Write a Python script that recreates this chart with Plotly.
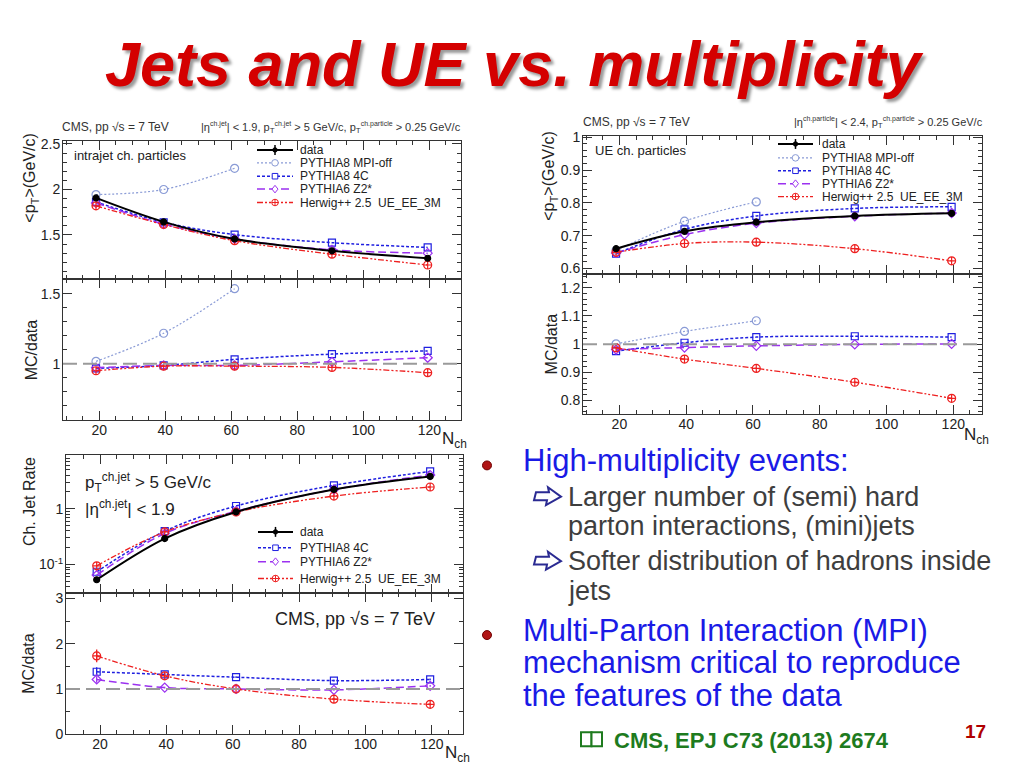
import plotly.graph_objects as go

W, H = 1024, 768
OX, OY = 8, 6      # page body margin of the exported html
HV = 759           # vertical extent the figure occupies on the photographed page
FONT = "Liberation Sans"

# ---------------- data ----------------
nch = [19, 39.5, 61, 90.5, 119.5]
nch_mpioff = [19, 39.5, 61]

# intrajet charged particles <pT>
ij_data = [1.907, 1.644, 1.456, 1.326, 1.244]
ij_data_err = [0.012, 0.010, 0.010, 0.012, 0.015]
ij_mpioff = [1.944, 2.000, 2.233]
ij_4c = [1.863, 1.640, 1.504, 1.415, 1.363]
ij_z2 = [1.852, 1.620, 1.456, 1.337, 1.300]
ij_herwig = [1.820, 1.615, 1.437, 1.289, 1.170]
# intrajet MC/data
ijr_mpioff = [1.017, 1.218, 1.536]
ijr_4c = [0.967, 0.988, 1.031, 1.069, 1.092]
ijr_z2 = [0.972, 0.988, 0.988, 1.014, 1.043]
ijr_herwig = [0.950, 0.983, 0.983, 0.974, 0.936]

# UE charged particles <pT>
ue_data = [0.660, 0.713, 0.741, 0.760, 0.768]
ue_data_err = [0.004, 0.004, 0.004, 0.004, 0.005]
ue_mpioff = [0.655, 0.744, 0.803]
ue_4c = [0.645, 0.719, 0.760, 0.783, 0.788]
ue_z2 = [0.647, 0.703, 0.738, 0.759, 0.769]
ue_herwig = [0.649, 0.676, 0.680, 0.660, 0.623]
# UE MC/data
uer_mpioff = [1.001, 1.045, 1.083]
uer_4c = [0.975, 1.005, 1.025, 1.028, 1.025]
uer_z2 = [0.981, 0.988, 0.994, 0.999, 1.001]
uer_herwig = [0.987, 0.947, 0.914, 0.865, 0.808]

# charged jet rate
jr_data = [0.0532, 0.291, 0.872, 2.21, 3.78]
jr_data_err = [0.004, 0.012, 0.03, 0.08, 0.14]
jr_4c = [0.074, 0.394, 1.116, 2.61, 4.64]
jr_z2 = [0.0645, 0.358, 0.90, 2.20, 4.00]
jr_herwig = [0.0946, 0.383, 0.87, 1.68, 2.44]
# jet rate MC/data
jrr_4c = [1.38, 1.32, 1.26, 1.185, 1.21]
jrr_4c_err = [0.10, 0.03, 0.02, 0.02, 0.02]
jrr_z2 = [1.21, 1.03, 1.00, 0.98, 1.07]
jrr_z2_err = [0.07, 0.02, 0.02, 0.02, 0.02]
jrr_herwig = [1.73, 1.29, 1.00, 0.775, 0.66]
jrr_herwig_err = [0.14, 0.03, 0.02, 0.02, 0.02]

LABELS = {
    "data": "data",
    "mpioff": "PYTHIA8 MPI-off",
    "4c": "PYTHIA8 4C",
    "z2": "PYTHIA6 Z2*",
    "herwig": "Herwig++ 2.5 \u00a0UE_EE_3M",
}

STY = {
    "data": dict(color="black", dash="solid", width=2, symbol="circle", size=6),
    "mpioff": dict(color="#8a9bd6", dash="2px,2px", width=1.2, symbol="circle-open", size=8),
    "4c": dict(color="#1f1fe0", dash="3px,2px", width=1.5, symbol="square-open", size=7),
    "z2": dict(color="#9b30f0", dash="8px,4px", width=1.5, symbol="diamond-open", size=7),
    "herwig": dict(color="#ee2020", dash="6px,2px,2px,2px,2px,2px", width=1.3,
                   symbol="circle-cross-open", size=8),
}

fig = go.Figure()


def axname(i, letter):
    return letter if i == 1 else f"{letter}{i}"


def add(key, x, y, i, err=None):
    s = STY[key]
    fig.add_trace(go.Scatter(
        x=x, y=y, xaxis=axname(i, "x"), yaxis=axname(i, "y"),
        mode="lines+markers",
        line=dict(color=s["color"], dash=s["dash"], width=s["width"], shape="spline", smoothing=1),
        marker=dict(symbol=s["symbol"], size=s["size"], color=s["color"],
                    line=dict(color=s["color"], width=1.2)),
        error_y=dict(type="data", array=err if err is not None else [],
                     visible=err is not None, color=s["color"], thickness=1.3, width=0),
        showlegend=False, hoverinfo="skip"))


# panel 1/2 : intrajet
add("mpioff", nch_mpioff, ij_mpioff, 1)
add("4c", nch, ij_4c, 1)
add("z2", nch, ij_z2, 1)
add("herwig", nch, ij_herwig, 1)
add("data", nch, ij_data, 1, ij_data_err)
add("mpioff", nch_mpioff, ijr_mpioff, 2)
add("4c", nch, ijr_4c, 2)
add("z2", nch, ijr_z2, 2)
add("herwig", nch, ijr_herwig, 2)
# panel 3/4 : UE
add("mpioff", nch_mpioff, ue_mpioff, 3)
add("4c", nch, ue_4c, 3)
add("z2", nch, ue_z2, 3)
add("herwig", nch, ue_herwig, 3)
add("data", nch, ue_data, 3, ue_data_err)
add("mpioff", nch_mpioff, uer_mpioff, 4)
add("4c", nch, uer_4c, 4)
add("z2", nch, uer_z2, 4)
add("herwig", nch, uer_herwig, 4)
# panel 5/6 : jet rate
add("4c", nch, jr_4c, 5)
add("z2", nch, jr_z2, 5)
add("herwig", nch, jr_herwig, 5)
add("data", nch, jr_data, 5, jr_data_err)
add("4c", nch, jrr_4c, 6, jrr_4c_err)
add("z2", nch, jrr_z2, 6, jrr_z2_err)
add("herwig", nch, jrr_herwig, 6, jrr_herwig_err)


def fx(px):
    return (px - OX) / W


def fy(py):
    return 1 - (py - OY) / HV


def xd(a, b):
    return [fx(a), fx(b)]


def yd(top, bottom):
    return [fy(bottom), fy(top)]


COMMON = dict(showline=True, linecolor="#333", linewidth=1, mirror="allticks",
              ticks="inside", ticklen=9, tickwidth=1, tickcolor="#333",
              showgrid=False, zeroline=False,
              tickfont=dict(family=FONT, size=14, color="#222"))


def minor(**kw):
    d = dict(ticks="inside", ticklen=4, tickcolor="#333", tickwidth=1)
    d.update(kw)
    return d


def xaxis(dom, anchor, rng, labels):
    return dict(domain=dom, anchor=anchor, range=rng, tick0=0, dtick=20,
                showticklabels=labels, ticklabelstandoff=-3,
                minor=minor(tick0=0, dtick=5), **COMMON)


def yaxis(dom, anchor, rng, vals, texts, mnr, typ="linear"):
    return dict(domain=dom, anchor=anchor, range=rng, type=typ, tickmode="array",
                tickvals=vals, ticktext=texts, minor=mnr, ticklabelstandoff=-1, **COMMON)


layout = dict(
    width=W, height=H, margin=dict(l=0, r=0, t=0, b=0),
    paper_bgcolor="white", plot_bgcolor="white", showlegend=False,
    font=dict(family=FONT, color="#222"),
)
# top-left
layout["xaxis"] = xaxis(xd(63, 461), "y", [9, 129.6], False)
layout["yaxis"] = yaxis(yd(133, 272), "x", [1.017, 2.533], [1.5, 2, 2.5], ["1.5", "2", "2.5"],
                        minor(tick0=0, dtick=0.1))
layout["xaxis2"] = xaxis(xd(63, 461), "y2", [9, 129.6], True)
layout["yaxis2"] = yaxis(yd(272, 414), "x2", [0.6, 1.606], [1, 1.5], ["1", "1.5"],
                         minor(tick0=0, dtick=0.1))
# top-right
layout["xaxis3"] = xaxis(xd(583, 982), "y3", [9.1, 128.6], False)
layout["yaxis3"] = yaxis(yd(128, 267), "x3", [0.583, 1.004], [0.6, 0.7, 0.8, 0.9, 1],
                         ["0.6", "0.7", "0.8", "0.9", "1"], minor(tick0=0, dtick=0.02))
layout["xaxis4"] = xaxis(xd(583, 982), "y4", [9.1, 128.6], True)
layout["yaxis4"] = yaxis(yd(267, 408), "x4", [0.753, 1.249], [0.8, 0.9, 1, 1.1, 1.2],
                         ["0.8", "0.9", "1", "1.1", "1.2"], minor(tick0=0, dtick=0.02))
# bottom-left
log_minor = [0.04, 0.05, 0.06, 0.07, 0.08, 0.09, 0.2, 0.3, 0.4, 0.5, 0.6, 0.7, 0.8, 0.9,
             2, 3, 4, 5, 6, 7, 8]
layout["xaxis5"] = xaxis(xd(66, 463), "y5", [9.75, 129.4], False)
layout["yaxis5"] = yaxis(yd(450, 589), "x5", [-1.518, 0.952], [0.1, 1], ["10<sup>-1</sup>", "1"],
                         minor(tickmode="array", tickvals=log_minor), typ="log")
layout["xaxis6"] = xaxis(xd(66, 463), "y6", [9.75, 129.4], True)
layout["yaxis6"] = yaxis(yd(589, 731), "x6", [0, 3.11], [0, 1, 2, 3], ["0", "1", "2", "3"],
                         minor(tick0=0, dtick=0.5))

shapes = []
annotations = []

# reference lines at MC/data = 1
for i in (2, 4, 6):
    shapes.append(dict(type="line", xref=f"x{i} domain", yref=f"y{i}", x0=0, x1=1, y0=1, y1=1,
                       line=dict(color="#9a9a9a", width=2, dash="14px,6px"), layer="above"))


def txt(px, py, s, size, color="#222", xa="left", ya="middle", angle=0, weight="normal",
        style="normal", family=FONT, shadow=None):
    f = dict(family=family, size=size, color=color, weight=weight, style=style)
    if shadow:
        f["shadow"] = shadow
    annotations.append(dict(x=fx(px), y=fy(py), xref="paper", yref="paper", text=s,
                            showarrow=False, xanchor=xa, yanchor=ya, textangle=angle, font=f))


def pline(x0, y0, x1, y1, color, width=1, dash="solid"):
    shapes.append(dict(type="line", xref="paper", yref="paper", x0=fx(x0), y0=fy(y0),
                       x1=fx(x1), y1=fy(y1), line=dict(color=color, width=width, dash=dash)))


def pcirc(cx, cy, r, color, fill="white", width=1):
    shapes.append(dict(type="circle", xref="paper", yref="paper",
                       x0=fx(cx - r), x1=fx(cx + r), y0=fy(cy + r), y1=fy(cy - r),
                       line=dict(color=color, width=width), fillcolor=fill))


def prect(x0, y0, x1, y1, color, fill="white", width=1):
    shapes.append(dict(type="rect", xref="paper", yref="paper",
                       x0=fx(x0), x1=fx(x1), y0=fy(y1), y1=fy(y0),
                       line=dict(color=color, width=width), fillcolor=fill))


def ppath(pts, color, fill="white", width=1):
    path = "M " + " L ".join(f"{fx(px):.5f},{fy(py):.5f}" for px, py in pts) + " Z"
    shapes.append(dict(type="path", xref="paper", yref="paper", path=path,
                       line=dict(color=color, width=width), fillcolor=fill))


def glyph(key, cx, cy):
    s = STY[key]
    c = s["color"]
    sym = s["symbol"]
    if sym == "circle":
        pline(cx, cy - 5, cx, cy + 5, c, 1.5)
        pcirc(cx, cy, 2.2, c, fill=c)
    elif sym == "circle-open":
        pcirc(cx, cy, 3.3, c)
    elif sym == "square-open":
        prect(cx - 2.8, cy - 2.8, cx + 2.8, cy + 2.8, c)
    elif sym == "diamond-open":
        ppath([(cx, cy - 3.8), (cx + 3, cy), (cx, cy + 3.8), (cx - 3, cy)], c)
    else:
        pcirc(cx, cy, 3.3, c)
        pline(cx - 3.3, cy, cx + 3.3, cy, c, 1)
        pline(cx, cy - 3.3, cx, cy + 3.3, c, 1)


def legend(x0, x1, tx, ys, keys, size=12):
    for y, k in zip(ys, keys):
        s = STY[k]
        pline(x0, y, x1, y, s["color"], s["width"], s["dash"])
        glyph(k, (x0 + x1) / 2, y)
        txt(tx, y, LABELS[k], size, "#222")


legend(257, 293, 298, [142, 155, 168.5, 181.5, 195], ["data", "mpioff", "4c", "z2", "herwig"])
legend(778, 813, 820, [136, 150, 163, 176, 189], ["data", "mpioff", "4c", "z2", "herwig"])
legend(258, 293, 298, [527, 543, 557, 574], ["data", "4c", "z2", "herwig"])


def sup(s, size=7):
    return f'<sup><span style="font-size:{size}px">{s}</span></sup>'


def sub(s, size=8):
    return f'<sub><span style="font-size:{size}px">{s}</span></sub>'


# headers above the top panels
txt(60, 119, "CMS, pp \u221as = 7 TeV", 12, "#333")
txt(199, 119, f"|\u03b7{sup('ch.jet')}| &lt; 1.9, p{sub('T')}{sup('ch.jet')} &gt; 5 GeV/c, "
    f"p{sub('T')}{sup('ch.particle')} &gt; 0.25 GeV/c", 11, "#333")
txt(581, 114, "CMS, pp \u221as = 7 TeV", 12, "#333")
txt(792, 114, f"|\u03b7{sup('ch.particle')}| &lt; 2.4, p{sub('T')}{sup('ch.particle')} "
    "&gt; 0.25 GeV/c", 11, "#333")

# in-panel labels
txt(72, 148, "intrajet ch. particles", 13)
txt(593, 143, "UE ch. particles", 13)
txt(83, 477, "p<sub>T</sub><sup>ch.jet</sup> &gt; 5 GeV/c", 17)
txt(83, 503, "|\u03b7<sup>ch.jet</sup>| &lt; 1.9", 17)
txt(273, 615, "CMS, pp \u221as = 7 TeV", 18)

# axis titles
txt(31, 170, "&lt;p<sub>T</sub>&gt;(GeV/c)", 16, xa="center", angle=-90)
txt(31, 344, "MC/data", 16, xa="center", angle=-90)
txt(550, 168, "&lt;p<sub>T</sub>&gt;(GeV/c)", 16, xa="center", angle=-90)
txt(551, 338, "MC/data", 16, xa="center", angle=-90)
txt(29, 497, "Ch. Jet Rate", 16, xa="center", angle=-90)
txt(29, 660, "MC/data", 16, xa="center", angle=-90)
txt(440, 434, "N<sub>ch</sub>", 17)
txt(962, 430, "N<sub>ch</sub>", 17)
txt(443, 751, "N<sub>ch</sub>", 17)

# slide title
txt(514, 55, "Jets and UE vs. multiplicity", 63, "#d40000", xa="center", weight="bold",
    style="italic", shadow="3px 3px 3px rgba(0,0,0,0.4)")

# right-hand text
BLUE = "#1a1ae6"
GRAY = "#3e3e3e"
NAVY = "#2a2a92"


def arrow(x, y):
    ppath([(x + 1, y - 4), (x + 14, y - 4), (x + 13, y - 9), (x + 26, y + 0.5),
           (x + 11, y + 9), (x + 12, y + 4), (x - 1, y + 4)], NAVY, width=2)


pcirc(487, 460, 4.5, "#700000", fill="#b01515")
pcirc(487, 631, 4.5, "#700000", fill="#b01515")
txt(521, 455, "High-multiplicity events:", 31, BLUE)
arrow(535, 491)
txt(566, 492, "Larger number of (semi) hard", 27, GRAY)
txt(566, 521, "parton interactions, (mini)jets", 27, GRAY)
arrow(535, 556)
txt(566, 556, "Softer distribution of hadrons inside", 27, GRAY)
txt(566, 587, "jets", 27, GRAY)
txt(521, 626, "Multi-Parton Interaction (MPI)", 31, BLUE)
txt(521, 659, "mechanism critical to reproduce", 31, BLUE)
txt(521, 692, "the features of the data", 31, BLUE)

# citation with a small book icon
GREEN = "#1e7b1e"
prect(581, 729, 591.5, 743, GREEN, width=2)
prect(591.5, 729, 602, 743, GREEN, width=2)
txt(612, 737, "CMS, EPJ C73 (2013) 2674", 22, GREEN, weight="bold")
txt(975, 728, "17", 19, "#b00000", xa="center", weight="bold")

layout["shapes"] = shapes
layout["annotations"] = annotations
fig.update_layout(**layout)
fig.write_html("out.html")
